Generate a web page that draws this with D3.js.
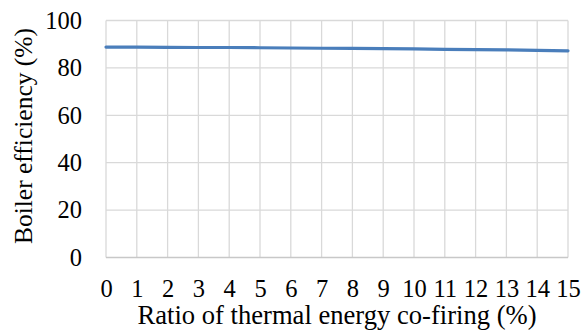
<!DOCTYPE html>
<meta charset="utf-8">
<style>
body { margin: 0; background: #fff; }
</style>
<body>
<script src="https://cdn.jsdelivr.net/npm/d3@7"></script>
<script>

// co-firing ratio (%) and boiler efficiency (%)
var ratios = [0, 1, 2, 3, 4, 5, 6, 7, 8, 9, 10, 11, 12, 13, 14, 15];
var efficiency = [88.8, 88.8, 88.7, 88.6, 88.6, 88.5, 88.4, 88.3, 88.2, 88.1,
                  88.0, 87.8, 87.7, 87.6, 87.4, 87.2];
var yTicks = [0, 20, 40, 60, 80, 100];

var width = 581, height = 333;
var margin = {top: 20.5, right: 13, bottom: 75.5, left: 106};
var font = "Liberation Serif";

var svg = d3.select("body").append("svg")
            .attr("width", width)
            .attr("height", height);

var x = d3.scaleLinear()
          .domain([0, 15])
          .range([margin.left, width - margin.right]);

var y = d3.scaleLinear()
          .domain([0, 100])
          .range([height - margin.bottom, margin.top]);

// grid
svg.append("g")
   .selectAll("line")
   .data(ratios)
   .enter().append("line")
   .attr("x1", function(d){return x(d)})
   .attr("x2", function(d){return x(d)})
   .attr("y1", y(0))
   .attr("y2", y(100))
   .attr("stroke", "#d9d9d9")
   .attr("stroke-width", 1.3);

svg.append("g")
   .selectAll("line")
   .data(yTicks)
   .enter().append("line")
   .attr("x1", x(0))
   .attr("x2", x(15))
   .attr("y1", function(d){return y(d)})
   .attr("y2", function(d){return y(d)})
   .attr("stroke", function(d){return d == 0 ? "#c8c8c8" : "#d9d9d9"})
   .attr("stroke-width", 1.3);

// axes, labels only
var yAxis = svg.append("g")
   .attr("transform", "translate(" + (x(0) - 24) + ",0)")
   .call(d3.axisLeft(y).tickValues(yTicks).tickSize(0).tickPadding(0));

var xAxis = svg.append("g")
   .attr("transform", "translate(0," + (y(0) + 22.5) + ")")
   .call(d3.axisBottom(x).tickValues(ratios).tickSize(0).tickPadding(0));

[yAxis, xAxis].forEach(function(a){
  a.attr("font-family", font).attr("font-size", 24.5);
  a.select(".domain").remove();
  a.selectAll("text").attr("fill", "#000");
});

// the line
var line = d3.line()
   .x(function(d, i){return x(ratios[i])})
   .y(function(d){return y(d)});

svg.append("path")
   .datum(efficiency)
   .attr("d", line)
   .attr("fill", "none")
   .attr("stroke", "#4a7ebb")
   .attr("stroke-width", 3.2)
   .attr("stroke-linecap", "round");

// titles
svg.append("text")
   .attr("x", 337)
   .attr("y", 323.5)
   .attr("text-anchor", "middle")
   .attr("font-family", font)
   .attr("font-size", 26.6)
   .text("Ratio of thermal energy co-firing (%)");

svg.append("text")
   .attr("transform", "translate(32,136) rotate(-90)")
   .attr("text-anchor", "middle")
   .attr("font-family", font)
   .attr("font-size", 25.5)
   .text("Boiler efficiency (%)");

</script>
</body>
